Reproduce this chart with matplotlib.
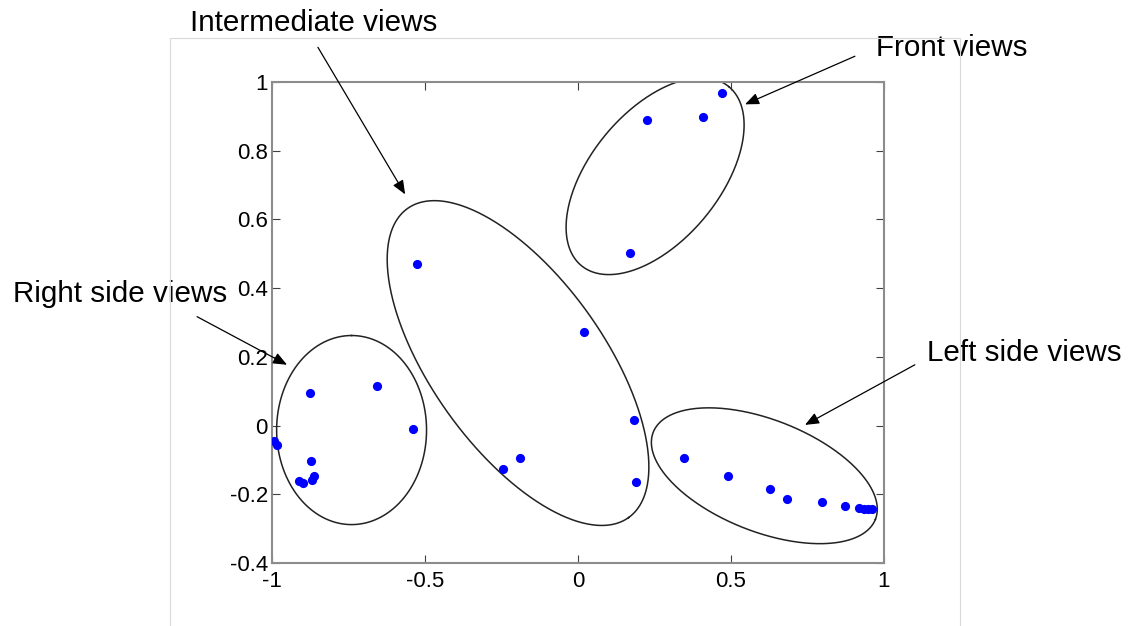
import numpy as np
import matplotlib
matplotlib.use("Agg")
import matplotlib.pyplot as plt
from matplotlib.patches import Rectangle

plt.rcParams['font.family'] = ['Liberation Sans', 'DejaVu Sans']

# 2-D embedding of the face views, one group per pose
front_x = [0.470, 0.409, 0.225, 0.170]
front_y = [0.968, 0.898, 0.888, 0.503]

inter_x = [-0.525, 0.020, 0.183, -0.190, -0.244, 0.190]
inter_y = [0.471, 0.271, 0.017, -0.094, -0.126, -0.165]

right_x = [-0.876, -0.658, -0.540, -0.993, -0.985, -0.873, -0.911, -0.900, -0.868, -0.863]
right_y = [0.095, 0.116, -0.011, -0.044, -0.056, -0.102, -0.160, -0.168, -0.157, -0.148]

left_x = [0.346, 0.491, 0.627, 0.684, 0.796, 0.873, 0.919, 0.935, 0.949, 0.960]
left_y = [-0.094, -0.148, -0.186, -0.215, -0.221, -0.233, -0.241, -0.242, -0.242, -0.242]

# group outlines: centre (x, y), semi-axes in x units, tilt on screen (deg)
groups = {
    'Intermediate views': ((-0.196, 0.182), 0.621, 0.281, -54.4),
    'Front views': ((0.252, 0.726), 0.379, 0.211, 50.5),
    'Left side views': ((0.609, -0.146), 0.390, 0.183, -21.4),
    'Right side views': ((-0.740, -0.013), 0.309, 0.245, 90.0),
}
# label position and arrow (tail, tip), in data units
labels = {
    'Intermediate views': ((-1.268, 1.149), (-0.850, 1.101), (-0.565, 0.673)),
    'Front views': ((0.974, 1.076), (0.905, 1.075), (0.546, 0.935)),
    'Left side views': ((1.141, 0.188), (1.101, 0.177), (0.742, 0.002)),
    'Right side views': ((-1.846, 0.360), (-1.245, 0.317), (-0.951, 0.177)),
}

fig = plt.figure(figsize=(11.33, 6.26), dpi=100)
fig.add_artist(Rectangle((0.150, -0.01), 0.6973, 0.950, transform=fig.transFigure,
                         fill=False, edgecolor='#d9d9d9', linewidth=0.8))
ax = fig.add_axes([0.2401, 0.1006, 0.5401, 0.7684])

ax.set_xlim(-1, 1)
ax.set_ylim(-0.4, 1)
ax.set_xticks([-1, -0.5, 0, 0.5, 1])
ax.set_xticklabels(['-1', '-0.5', '0', '0.5', '1'])
ax.set_yticks([-0.4, -0.2, 0, 0.2, 0.4, 0.6, 0.8, 1])
ax.set_yticklabels(['-0.4', '-0.2', '0', '0.2', '0.4', '0.6', '0.8', '1'])
ax.tick_params(direction='in', top=True, right=True, length=6, width=0.8,
               color='#404040', labelsize=16, pad=3)
ax.tick_params(axis='x', pad=6)
for s in ax.spines.values():
    s.set_color('#8c8c8c')
    s.set_linewidth(1.5)

# screen aspect so the outlines are true ellipses on the page
pos = ax.get_position()
W, H = fig.get_size_inches() * fig.dpi
k = (pos.width * W / 2.0) / (pos.height * H / 1.4)

t = np.linspace(0, 2 * np.pi, 400)
for name, (c, a, b, ang) in groups.items():
    th = np.deg2rad(ang)
    u = a * np.cos(t) * np.cos(th) - b * np.sin(t) * np.sin(th)
    v = a * np.cos(t) * np.sin(th) + b * np.sin(t) * np.cos(th)
    ax.plot(c[0] + u, c[1] + v * k, color='#222222', lw=1.1, zorder=2)

for xs, ys in [(front_x, front_y), (inter_x, inter_y), (right_x, right_y), (left_x, left_y)]:
    ax.plot(xs, ys, 'o', color='#0000ff', markersize=6.6, markeredgewidth=0, zorder=3)

for name, (txt, tail, tip) in labels.items():
    ax.annotate('', xy=tip, xytext=tail, annotation_clip=False,
                arrowprops=dict(arrowstyle='-|>,head_length=0.6,head_width=0.25',
                                mutation_scale=14, color='black', lw=0.9,
                                shrinkA=0, shrinkB=0))
    ax.text(txt[0], txt[1], name, fontsize=21.3, ha='left', va='baseline',
            clip_on=False)

fig.savefig('out.png', dpi=100)
